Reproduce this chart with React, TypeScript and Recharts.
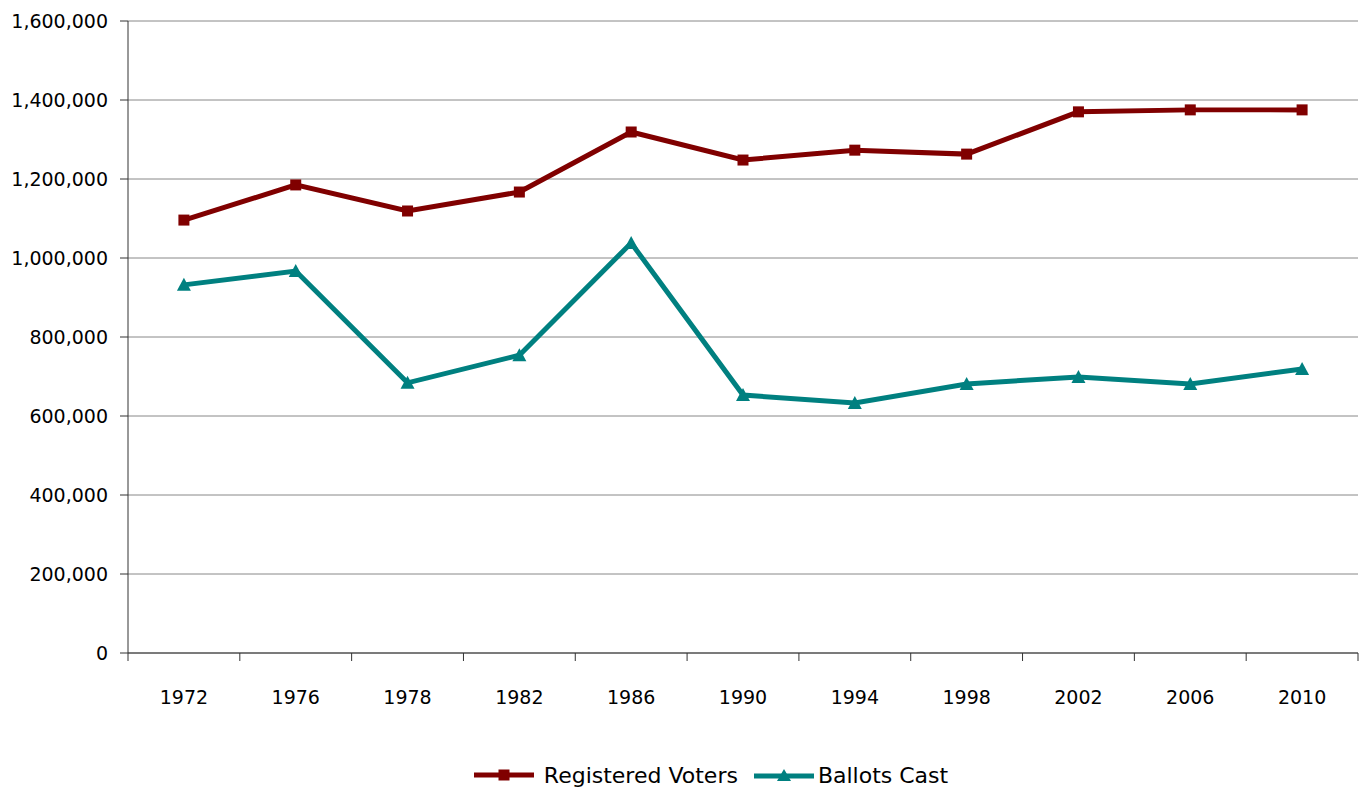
import { LineChart, Line, CartesianGrid, XAxis, YAxis, Legend } from "recharts";

const years = ["1972", "1976", "1978", "1982", "1986", "1990", "1994", "1998", "2002", "2006", "2010"];
const registeredVoters = [1096000, 1185000, 1119000, 1167000, 1319000, 1248000, 1273000, 1263000, 1370000, 1375000, 1375000];
const ballotsCast = [932000, 967000, 684000, 754000, 1038000, 653000, 633000, 681000, 699000, 681000, 719000];
const yTicks = [0, 200000, 400000, 600000, 800000, 1000000, 1200000, 1400000, 1600000];

const RED = "#800000";
const TEAL = "#008080";
const FONT = "'DejaVu Sans', sans-serif";

const data = years.map((year, i) => ({
  year,
  registered: registeredVoters[i],
  ballots: ballotsCast[i],
}));

const SquareDot = ({ cx, cy }: any) => {
  if (cx == null || cy == null) return null;
  return <rect x={cx - 5.5} y={cy - 5.5} width={11} height={11} fill={RED} />;
};

const TriangleDot = ({ cx, cy }: any) => {
  if (cx == null || cy == null) return null;
  return <path d={`M${cx},${cy - 7} L${cx + 7},${cy + 6} L${cx - 7},${cy + 6} Z`} fill={TEAL} />;
};

// tick marks sit between categories, labels at the category centre
const YearTick = ({ x, y, payload, index, visibleTicksCount }: any) => {
  const half = payload.offset || 0;
  return (
    <g>
      <line x1={x - half} y1={y} x2={x - half} y2={y + 8} stroke="#333" />
      {index === visibleTicksCount - 1 && (
        <line x1={x + half} y1={y} x2={x + half} y2={y + 8} stroke="#333" />
      )}
      <text x={x} y={y + 51} textAnchor="middle" fontSize={19} fontFamily={FONT} fill="#000">
        {payload.value}
      </text>
    </g>
  );
};

const CustomLegend = () => (
  <div
    style={{
      display: "flex",
      justifyContent: "center",
      alignItems: "center",
      height: 30,
      paddingLeft: 56,
      fontFamily: FONT,
      fontSize: 22,
      color: "#000",
    }}
  >
    <svg width={60} height={14} style={{ marginRight: 10 }}>
      <line x1={0} y1={7} x2={60} y2={7} stroke={RED} strokeWidth={5} />
      <rect x={24.5} y={1.5} width={11} height={11} fill={RED} />
    </svg>
    <span style={{ marginRight: 16 }}>Registered Voters</span>
    <svg width={60} height={14} style={{ marginRight: 4 }}>
      <line x1={0} y1={8} x2={60} y2={8} stroke={TEAL} strokeWidth={5} />
      <path d="M30,1 L37,13 L23,13 Z" fill={TEAL} />
    </svg>
    <span>Ballots Cast</span>
  </div>
);

const App = () => {
  return (
    <div style={{ position: "absolute", left: 0, top: 0 }}>
      <LineChart
        width={1361}
        height={790}
        data={data}
        margin={{ top: 21, right: 3, left: 8, bottom: 0 }}
      >
        <CartesianGrid vertical={false} stroke="#888" yAxisId="left" />
        <XAxis
          dataKey="year"
          scale="band"
          height={107}
          tickLine={false}
          tickSize={0}
          tickMargin={0}
          axisLine={{ stroke: "#333" }}
          tick={<YearTick />}
          interval={0}
        />
        <YAxis
          yAxisId="left"
          width={120}
          domain={[0, 1600000]}
          ticks={yTicks}
          interval={0}
          tickSize={8}
          tickMargin={12}
          tickFormatter={(v: number) => v.toLocaleString("en-US")}
          tick={{ fontSize: 19, fontFamily: FONT, fill: "#000" }}
          axisLine={{ stroke: "#333" }}
          tickLine={{ stroke: "#333" }}
        />
        <YAxis
          yAxisId="right"
          orientation="right"
          width={0}
          domain={[0, 1600000]}
          tick={false}
          tickLine={false}
          axisLine={{ stroke: "#888" }}
        />
        <Legend verticalAlign="bottom" content={<CustomLegend />} />
        <Line
          yAxisId="left"
          dataKey="registered"
          name="Registered Voters"
          stroke={RED}
          strokeWidth={5}
          dot={<SquareDot />}
          activeDot={false}
          isAnimationActive={false}
        />
        <Line
          yAxisId="left"
          dataKey="ballots"
          name="Ballots Cast"
          stroke={TEAL}
          strokeWidth={5}
          dot={<TriangleDot />}
          activeDot={false}
          isAnimationActive={false}
        />
      </LineChart>
    </div>
  );
};

export default App;
